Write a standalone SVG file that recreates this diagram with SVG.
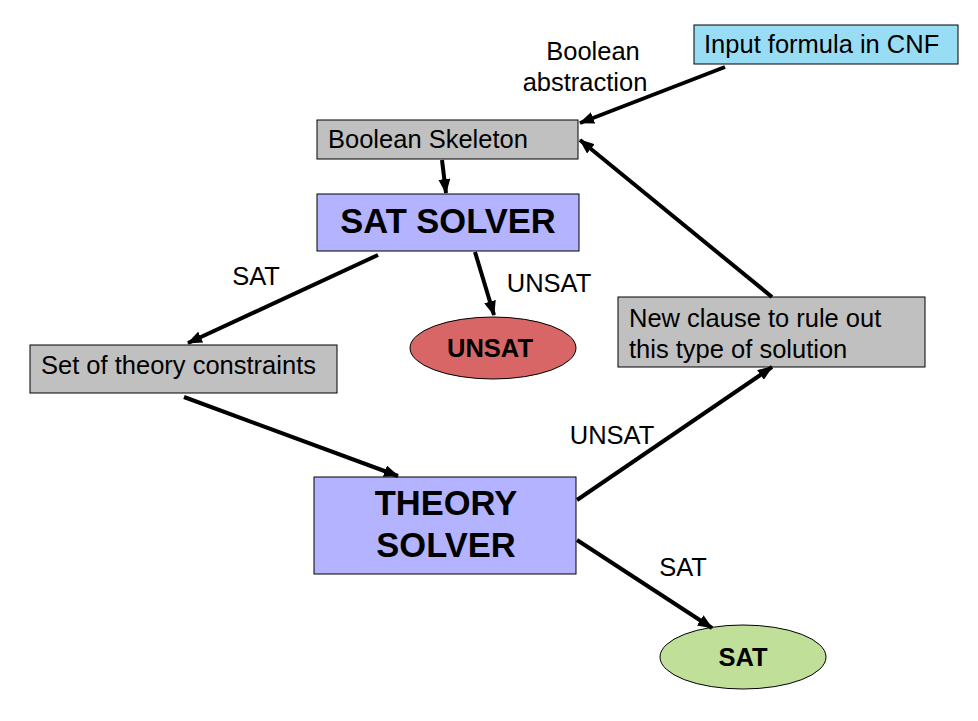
<svg xmlns="http://www.w3.org/2000/svg" width="978" height="721" viewBox="0 0 978 721">
<defs>
<marker id="ah" markerUnits="userSpaceOnUse" markerWidth="16" markerHeight="12" refX="14" refY="6" orient="auto">
<path d="M0,0 L15,6 L0,12 z" fill="#000"/>
</marker>
<style>
.box{stroke:#000;stroke-width:1}
.gray{fill:#C0C0C0}
.blue{fill:#B3B3FF}
.cyan{fill:#99DDF5}
.t{font-family:"Liberation Sans",Arial,sans-serif;font-size:25.5px;fill:#000}
.b{font-family:"Liberation Sans",Arial,sans-serif;font-weight:bold;fill:#000}
.c{stroke:#000;stroke-width:4;fill:none;marker-end:url(#ah)}
</style>
</defs>
<rect width="978" height="721" fill="#fff"/>
<g id="input">
<rect class="box cyan" x="694" y="25" width="264" height="39"/>
<text class="t" x="704" y="53">Input formula in CNF</text>
</g>
<g id="skeleton">
<rect class="box gray" x="317" y="120" width="261" height="39"/>
<text class="t" x="328" y="148">Boolean Skeleton</text>
</g>
<g id="satsolver">
<rect class="box blue" x="317" y="194" width="262" height="57"/>
<text class="b" x="448" y="233" font-size="34.5" text-anchor="middle">SAT SOLVER</text>
</g>
<g id="unsat">
<ellipse cx="493" cy="348" rx="83" ry="31" fill="#D96666" stroke="#000" stroke-width="1"/>
<text class="b" x="490" y="357" font-size="25.5" text-anchor="middle">UNSAT</text>
</g>
<g id="constraints">
<rect class="box gray" x="30" y="345" width="307" height="48"/>
<text class="t" x="41" y="374">Set of theory constraints</text>
</g>
<g id="newclause">
<rect class="box gray" x="618" y="297" width="307" height="70"/>
<text class="t" x="629" y="327">New clause to rule out</text>
<text class="t" x="629" y="358">this type of solution</text>
</g>
<g id="theorysolver">
<rect class="box blue" x="314" y="477" width="262" height="97"/>
<text class="b" x="446" y="515" font-size="34.5" text-anchor="middle">THEORY</text>
<text class="b" x="446" y="557" font-size="34.5" text-anchor="middle">SOLVER</text>
</g>
<g id="sat">
<ellipse cx="743" cy="657" rx="83" ry="32" fill="#C0E09A" stroke="#000" stroke-width="1"/>
<text class="b" x="743" y="666" font-size="25.5" text-anchor="middle">SAT</text>
</g>
<g id="connectors">
<line class="c" x1="725" y1="67" x2="580" y2="123"/>
<line class="c" x1="442" y1="160" x2="446" y2="193"/>
<line class="c" x1="378" y1="255" x2="188" y2="343"/>
<line class="c" x1="475" y1="252" x2="494" y2="315"/>
<line class="c" x1="184" y1="397" x2="398" y2="476"/>
<line class="c" x1="577" y1="500" x2="772" y2="367"/>
<line class="c" x1="772" y1="297" x2="580" y2="140"/>
<line class="c" x1="577" y1="540" x2="712" y2="628"/>
</g>
<g id="labels">
<text class="t" x="593" y="60" text-anchor="middle">Boolean</text>
<text class="t" x="585" y="91" text-anchor="middle">abstraction</text>
<text class="t" x="256" y="285" text-anchor="middle">SAT</text>
<text class="t" x="549" y="292" text-anchor="middle">UNSAT</text>
<text class="t" x="612" y="444" text-anchor="middle">UNSAT</text>
<text class="t" x="683" y="576" text-anchor="middle">SAT</text>
</g>
</svg>
